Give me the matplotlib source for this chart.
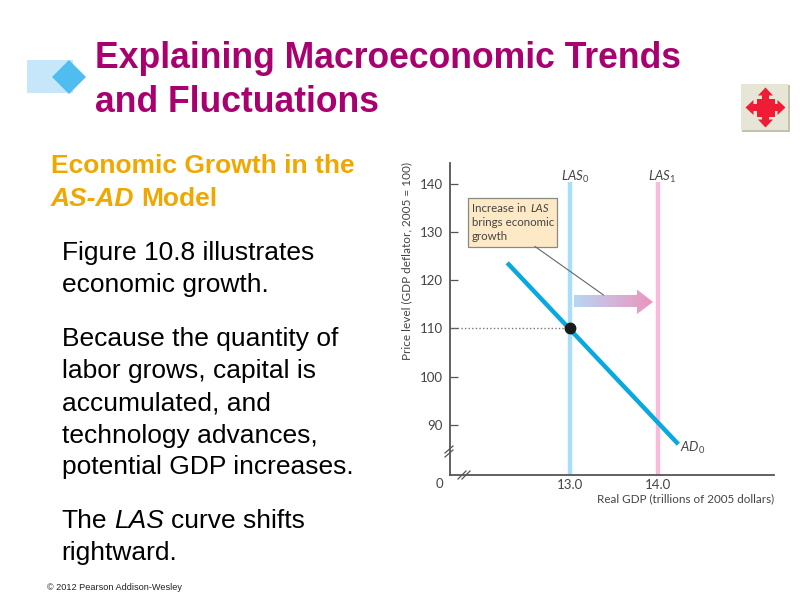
import numpy as np
import matplotlib.pyplot as plt
from matplotlib.patches import Polygon, Rectangle

# chart values
price_ticks = [90, 100, 110, 120, 130, 140]
gdp_ticks = [13.0, 14.0]
gdp_labels = ['13.0', '14.0']
las0_x = [13.0, 13.0]
las1_x = [14.0, 14.0]
las_y = [79.6, 140.3]
ad_x = [12.28, 14.23]
ad_y = [123.6, 86.0]
eq_x = [13.0]
eq_y = [110]

body_lines = ['Figure 10.8 illustrates', 'economic growth.',
              'Because the quantity of', 'labor grows, capital is',
              'accumulated, and', 'technology advances,',
              'potential GDP increases.', 'rightward.']
body_y = [253, 285, 339, 371, 404, 436, 467, 553]

plt.rcParams['font.family'] = ['Liberation Sans', 'DejaVu Sans']
plt.rcParams['mathtext.fontset'] = 'custom'
plt.rcParams['mathtext.it'] = 'Lato:italic'
plt.rcParams['mathtext.rm'] = 'Lato'

fig = plt.figure(figsize=(8, 6), dpi=100)

# slide layer in pixel coordinates
bg = fig.add_axes([0, 0, 1, 1])
bg.set_xlim(0, 800)
bg.set_ylim(600, 0)
bg.axis('off')


def text_run(x, y, runs, **kw):
    # mixed roman/italic on one line, next piece starts where the last one ended
    rend = fig.canvas.get_renderer()
    for s, style in runs:
        t = bg.text(x, y, s, style=style, va='center', **kw)
        x += t.get_window_extent(rend).width + kw['fontsize'] * 0.36


bg.add_patch(Rectangle((26.5, 60), 46, 33, color='#c6e7fa', lw=0))
bg.add_patch(Polygon([(52, 77), (69, 60), (86, 77), (69, 94)], color='#4fbdf0', lw=0))

title_col = '#a8006f'
gold = '#f0a800'
bg.text(95, 59, 'Explaining Macroeconomic Trends', color=title_col, fontsize=25.6,
        fontweight='bold', va='center')
bg.text(95, 102, 'and Fluctuations', color=title_col, fontsize=25.6, fontweight='bold', va='center')

bg.text(51, 166, 'Economic Growth in the', color=gold, fontsize=19, fontweight='bold', va='center')
text_run(51, 199, [('AS-AD', 'italic'), ('Model', 'normal')], color=gold, fontsize=19, fontweight='bold')

for line, y in zip(body_lines, body_y):
    bg.text(61.5, y, line, color='black', fontsize=19, va='center')
text_run(61.5, 521, [('The', 'normal'), ('LAS', 'italic'), ('curve shifts', 'normal')], color='black', fontsize=19)

bg.text(47, 587, '© 2012 Pearson Addison-Wesley', color='#222222', fontsize=6.6, va='center')

# navigation button
bg.add_patch(Rectangle((742, 85), 48, 47, color='#c4c1ac', lw=0))
bg.add_patch(Rectangle((741, 84), 47, 46, color='#e7e5d6', lw=0))
red = '#ee1c35'
cx, cy = 765.5, 107.5
bg.add_patch(Rectangle((cx - 9, cy - 9), 18, 18, color=red, lw=0))
bg.add_patch(Polygon([(cx, cy - 20), (cx + 7.5, cy - 12), (cx + 3.5, cy - 12), (cx + 3.5, cy),
                      (cx - 3.5, cy), (cx - 3.5, cy - 12), (cx - 7.5, cy - 12)], color=red, lw=0))
bg.add_patch(Polygon([(cx, cy + 20), (cx + 7.5, cy + 12), (cx + 3.5, cy + 12), (cx + 3.5, cy),
                      (cx - 3.5, cy), (cx - 3.5, cy + 12), (cx - 7.5, cy + 12)], color=red, lw=0))
bg.add_patch(Polygon([(cx - 20, cy), (cx - 12, cy + 7.5), (cx - 12, cy + 3.5), (cx, cy + 3.5),
                      (cx, cy - 3.5), (cx - 12, cy - 3.5), (cx - 12, cy - 7.5)], color=red, lw=0))
bg.add_patch(Polygon([(cx + 20, cy), (cx + 12, cy + 7.5), (cx + 12, cy + 3.5), (cx, cy + 3.5),
                      (cx, cy - 3.5), (cx + 12, cy - 3.5), (cx + 12, cy - 7.5)], color=red, lw=0))

# chart
ax = fig.add_axes([450 / 800, 1 - 475 / 600, 324 / 800, 312 / 600])
ax.patch.set_alpha(0)
ax.set_xlim(11.628, 15.32)
ax.set_ylim(79.62, 144.29)
for side in ['top', 'right']:
    ax.spines[side].set_visible(False)
for side in ['left', 'bottom']:
    ax.spines[side].set_color('#555555')
    ax.spines[side].set_linewidth(1.3)

txt = '#444444'
ax.set_yticks(price_ticks)
ax.set_xticks(gdp_ticks)
ax.set_xticklabels(gdp_labels)
ax.tick_params(axis='y', direction='in', length=6, width=0.9, color='#555555', labelcolor=txt,
               labelsize=9.5, pad=5, labelfontfamily='Lato')
ax.tick_params(axis='x', length=0, labelcolor=txt, labelsize=9.5, pad=3, labelfontfamily='Lato')

ax.plot(las0_x, las_y, color='#a9defa', lw=3.2, solid_capstyle='butt', zorder=2)
ax.plot(las1_x, las_y, color='#f8bcd8', lw=3.2, solid_capstyle='butt', zorder=2)
ax.plot(ad_x, ad_y, color='#0aa8e0', lw=3.2, solid_capstyle='butt', zorder=3)
ax.plot([ax.get_xlim()[0], eq_x[0]], [eq_y[0], eq_y[0]], color='#777777', lw=1, ls=(0, (1, 1.6)), zorder=2)
ax.plot(eq_x, eq_y, 'o', color='#1a1a1a', ms=7.5, zorder=5)

ax.text(13.05, 141.5, r'$LAS_0$', ha='center', va='center', color=txt, fontsize=9.5)
ax.text(14.05, 141.5, r'$LAS_1$', ha='center', va='center', color=txt, fontsize=9.5)
ax.text(14.25, 85.3, r'$AD_0$', ha='left', va='center', color=txt, fontsize=9.5)

# text outside the chart area, positioned in slide pixels
chart_font = 'Lato'
bg.text(439, 484, '0', ha='center', va='center', color=txt, fontsize=9.5, family=chart_font)
bg.text(774, 499, 'Real GDP (trillions of 2005 dollars)', ha='right', va='center', color=txt,
        fontsize=8.4, family=chart_font)
bg.text(407, 261, 'Price level (GDP deflator, 2005 = 100)', rotation=90, ha='center', va='center',
        color=txt, fontsize=8.5, family=chart_font)

# axis break marks
for off in [0, 4]:
    bg.plot([445, 453], [457 - off, 450 - off], color='#555555', lw=0.9, zorder=6)
    bg.plot([458 + off, 466 + off], [479, 471], color='#555555', lw=0.9, zorder=6)

# callout
bg.add_patch(Rectangle((468, 197.5), 89, 49, facecolor='#fde9c6', edgecolor='#8a8a80', lw=0.9))
bg.text(471.5, 208, 'Increase in', color=txt, fontsize=8.3, family=chart_font, va='center')
bg.text(530, 208, 'LAS', color=txt, fontsize=8.3, family=chart_font, style='italic', va='center')
bg.text(471.5, 222, 'brings economic', color=txt, fontsize=8.3, family=chart_font, va='center')
bg.text(471.5, 236, 'growth', color=txt, fontsize=8.3, family=chart_font, va='center')

# gradient arrow
arrow = Polygon([(574, 295), (637, 295), (637, 289.5), (653, 302), (637, 314), (637, 307), (574, 307)],
                transform=bg.transData, lw=0, facecolor='none')
bg.add_patch(arrow)
grad = np.linspace(0, 1, 128)[None, :, None]
start = np.array([0.72, 0.84, 0.95])
end = np.array([0.93, 0.58, 0.75])
im = bg.imshow(start + grad * (end - start), extent=(574, 653, 314, 289), aspect='auto', zorder=4)
im.set_clip_path(arrow)
bg.set_xlim(0, 800)
bg.set_ylim(600, 0)

# leader line on top of the chart lines
ax.set_zorder(1)
leader = fig.add_axes([0, 0, 1, 1], zorder=2)
leader.set_xlim(0, 800)
leader.set_ylim(600, 0)
leader.axis('off')
leader.plot([535, 603.5], [246.5, 295], color='#666666', lw=0.8)

fig.savefig('out.png', dpi=100)
